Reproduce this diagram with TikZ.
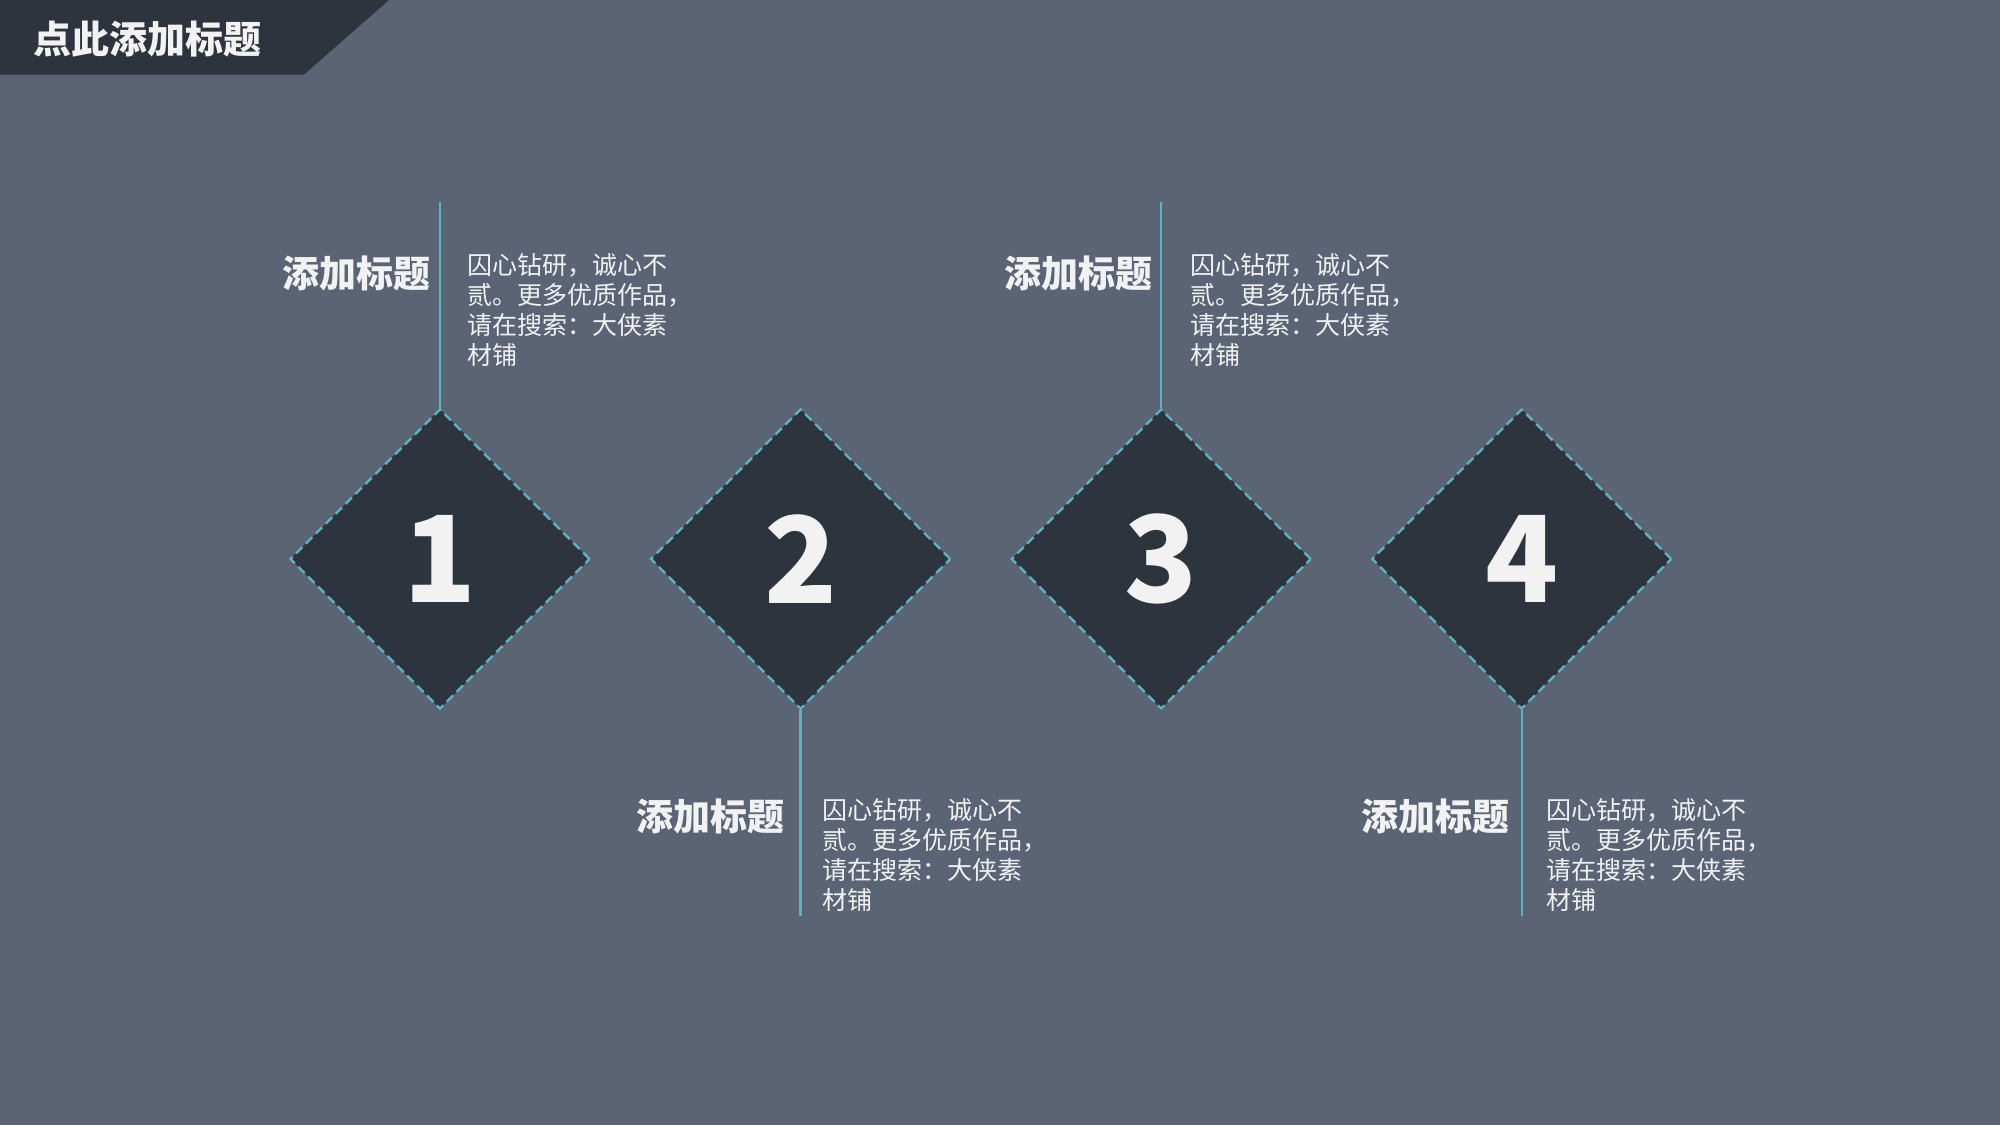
\documentclass[tikz,border=0pt]{standalone}
\usepackage{fontspec}
\setmainfont{Noto Sans CJK SC}
\usetikzlibrary{shapes.geometric}
\definecolor{bgc}{HTML}{5A6475}
\definecolor{darkc}{HTML}{2E343E}
\definecolor{tealc}{HTML}{5CB4C1}
\definecolor{txtc}{HTML}{F2F2F2}
\tikzset{
  dia/.style={diamond, aspect=1, minimum width=150pt, minimum height=150pt, inner sep=0pt, fill=darkc, draw=tealc, line width=1.15pt, dash pattern=on 4.5pt off 2.5pt},
  num/.style={text=txtc, font=\fontsize{60}{60}\selectfont\bfseries, inner sep=0pt},
  conn/.style={draw=tealc, line width=1.2pt},
  head/.style={text=txtc, font=\fontsize{18.5}{20}\selectfont\bfseries, inner sep=0pt, anchor=east},
  body/.style={text=txtc, font=\fontsize{12.5}{15}\selectfont, inner sep=0pt, anchor=north west, align=left},
}
\newcommand{\bodytext}{囚心钻研，诚心不\\贰。更多优质作品，\\请在搜索：大侠素\\材铺}
\begin{document}
\begin{tikzpicture}[x=0.5pt,y=-0.5pt]
\useasboundingbox (0,0) rectangle (2000,1125);
\fill[bgc] (0,0) rectangle (2000,1125);
% header
\fill[darkc] (0,0) -- (389,0) -- (304,74.5) -- (0,74.5) -- cycle;
\node[text=txtc, font=\fontsize{19}{20}\selectfont\bfseries, inner sep=0pt, anchor=west] (title) at (33,39) {点此添加标题};
% diamonds
\node[dia] (d1) at (440,559) {};
\node[dia] (d2) at (800.6,559) {};
\node[dia] (d3) at (1161.2,559) {};
\node[dia] (d4) at (1521.8,559) {};
\node[num] (n1) at (d1) {1};
\node[num] (n2) at (d2) {2};
\node[num] (n3) at (d3) {3};
\node[num] (n4) at (d4) {4};
% connector ends
\coordinate (e1) at (440,202);
\coordinate (e2) at (800.6,916);
\coordinate (e3) at (1161.2,202);
\coordinate (e4) at (1521.8,916);
\draw[conn] (d1.north) -- (e1);
\draw[conn] (d2.south) -- (e2);
\draw[conn] (d3.north) -- (e3);
\draw[conn] (d4.south) -- (e4);
% headings
\node[head] (h1) at (431,273) {添加标题};
\node[head] (h2) at (785,816) {添加标题};
\node[head] (h3) at (1153,273) {添加标题};
\node[head] (h4) at (1510,816) {添加标题};
% body texts
\node[body] (b1) at (467,253) {\bodytext};
\node[body] (b2) at (822,798) {\bodytext};
\node[body] (b3) at (1190,253) {\bodytext};
\node[body] (b4) at (1546,798) {\bodytext};
\end{tikzpicture}
\end{document}
